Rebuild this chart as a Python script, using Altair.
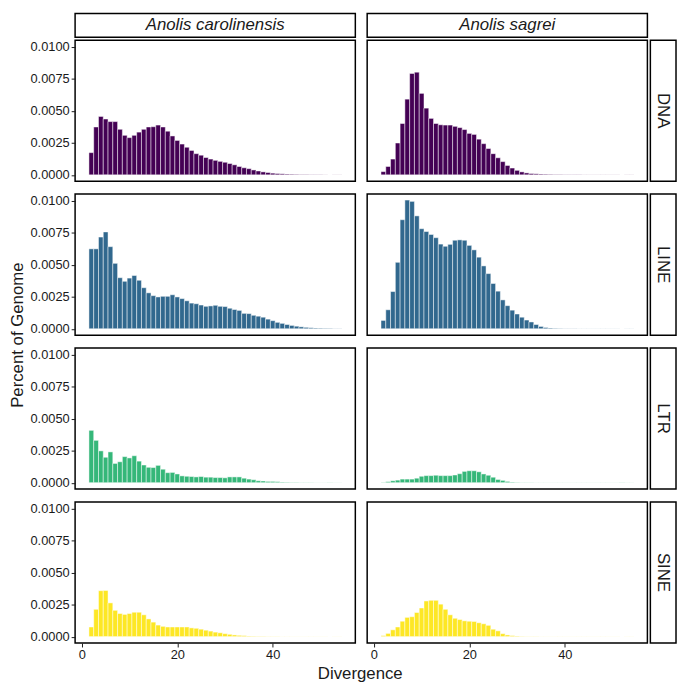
import altair as alt
import pandas as pd

FONT = "Liberation Sans"

species = ["Anolis carolinensis", "Anolis sagrei"]
te_types = ["DNA", "LINE", "LTR", "SINE"]
te_colors = ["#440154", "#31688E", "#35B779", "#FDE725"]
y_ticks = [0, 0.0025, 0.005, 0.0075, 0.01]
x_ticks = [0, 20, 40]

# divergence bin centres (width-1 bins)
bin_centers = list(range(2, 55))

car_DNA = [0.00173, 0.00373, 0.00455, 0.00435, 0.00415, 0.00415, 0.00355, 0.00308, 0.0029, 0.00308,
           0.00333, 0.00355, 0.00373, 0.00375, 0.00388, 0.00373, 0.0034, 0.00303, 0.00268, 0.0024,
           0.00215, 0.0019, 0.00165, 0.00153, 0.00135, 0.00123, 0.00113, 0.00105, 0.00098, 0.00088,
           0.00078, 0.00065, 0.00055, 0.00048, 0.00038, 0.0003, 0.00023, 0.00018, 0.00013, 0.0001,
           0.00008, 0.00006, 0.00005, 0.00004, 0.00003, 0.00003, 0.00002, 0.00002, 0.00002, 0.00001,
           0.00001, 0.00001, 0.00001]
sag_DNA = [0.00025, 0.00065, 0.00123, 0.00248, 0.004, 0.0059, 0.0079, 0.008, 0.00635, 0.0052,
           0.0044, 0.004, 0.0039, 0.00388, 0.00388, 0.00378, 0.00368, 0.00353, 0.00323, 0.00315,
           0.00278, 0.00243, 0.00205, 0.00165, 0.00133, 0.00103, 0.00073, 0.00053, 0.00035, 0.00023,
           0.00015, 0.0001, 0.00008, 0.00006, 0.00005, 0.00004, 0.00003, 0.00003, 0.00002, 0.00002,
           0.00002, 0.00002, 0.00001, 0.00001, 0.00001, 0.00001, 0.00001, 0.00001, 0.00001, 0.00001,
           0.00001, 0.00001, 0.00001]
car_LINE = [0.00623, 0.00623, 0.00715, 0.00755, 0.0064, 0.0051, 0.00398, 0.0037, 0.00395, 0.00415,
            0.00378, 0.0032, 0.0028, 0.00258, 0.00248, 0.00253, 0.00253, 0.00265, 0.00248, 0.00235,
            0.00218, 0.002, 0.00195, 0.00185, 0.00175, 0.00178, 0.00183, 0.00175, 0.00173, 0.0016,
            0.0015, 0.00143, 0.0012, 0.00118, 0.00105, 0.00098, 0.0009, 0.00075, 0.00063, 0.0005,
            0.00042, 0.00033, 0.00026, 0.0002, 0.00015, 0.00011, 0.00008, 0.00006, 0.00005, 0.00004,
            0.00003, 0.00002, 0.00002]
sag_LINE = [0.00065, 0.00148, 0.0029, 0.00518, 0.0085, 0.01003, 0.00993, 0.0088, 0.0078, 0.00758,
            0.00735, 0.0071, 0.0066, 0.00643, 0.00658, 0.0069, 0.00693, 0.0069, 0.0065, 0.00615,
            0.00558, 0.0049, 0.0043, 0.00353, 0.00293, 0.00225, 0.0018, 0.00145, 0.00115, 0.0009,
            0.00068, 0.00053, 0.00033, 0.00018, 0.0001, 0.00006, 0.00004, 0.00003, 0.00002, 0.00002,
            0.00002, 0.00001, 0.00001, 0.00001, 0.00001, 0.00001, 0.00001, 0.00001, 0.00001, 0.00001,
            0.00001, 0.00001, 0.00001]
car_LTR = [0.00408, 0.0033, 0.00248, 0.00198, 0.0024, 0.0015, 0.00163, 0.00203, 0.00193, 0.0021,
           0.00168, 0.00138, 0.0012, 0.00118, 0.00135, 0.00105, 0.00078, 0.0008, 0.00068, 0.00053,
           0.0005, 0.00048, 0.00045, 0.00048, 0.00043, 0.00043, 0.0004, 0.0004, 0.00038, 0.00045,
           0.00045, 0.00045, 0.00035, 0.00028, 0.00023, 0.00015, 0.00013, 0.0001, 0.0001, 0.00008,
           0.00005, 0.00004, 0.00003, 0.00003, 0.00002, 0.00002, 0.00002, 0.00001, 0.00001, 0.00001,
           0.00001, 0.00001, 0.00001]
sag_LTR = [0.00003, 0.00008, 0.00015, 0.0002, 0.00028, 0.00028, 0.00028, 0.00035, 0.0005, 0.00055,
           0.00055, 0.00058, 0.00055, 0.00055, 0.00055, 0.0006, 0.0007, 0.00088, 0.00093, 0.00093,
           0.00085, 0.00068, 0.00058, 0.00043, 0.00025, 0.00018, 0.0001, 0.00005, 0.00003, 0.00002,
           0.00002, 0.00002, 0.00001, 0.00001, 0.00001, 0.00001, 0.00001, 0.00001, 0.00001, 0.00001,
           0.00001, 0.00001, 0.00001, 0.00001, 0.00001, 0.00001, 0.00001, 0.00001, 0.00001, 0.00001,
           0.00001, 0.00001, 0.00001]
car_SINE = [0.00075, 0.00213, 0.00358, 0.0036, 0.00263, 0.00205, 0.0018, 0.00173, 0.0018, 0.0019,
            0.0019, 0.0017, 0.00138, 0.00113, 0.0009, 0.0008, 0.00075, 0.00075, 0.00075, 0.00075,
            0.00075, 0.00068, 0.00065, 0.00058, 0.0005, 0.00043, 0.00035, 0.0003, 0.00023, 0.00018,
            0.00013, 0.0001, 0.00008, 0.00005, 0.00004, 0.00003, 0.00003, 0.00002, 0.00002, 0.00002,
            0.00001, 0.00001, 0.00001, 0.00001, 0.00001, 0.00001, 0.00001, 0.00001, 0.00001, 0.00001,
            0.00001, 0.00001, 0.00001]
sag_SINE = [0.00008, 0.00025, 0.00053, 0.00075, 0.0012, 0.0015, 0.00155, 0.00188, 0.00223, 0.00278,
            0.00283, 0.00283, 0.00253, 0.00213, 0.0017, 0.00143, 0.00133, 0.00123, 0.0012, 0.00118,
            0.00108, 0.001, 0.00088, 0.00058, 0.00045, 0.00023, 0.00013, 0.00008, 0.00005, 0.00003,
            0.00002, 0.00002, 0.00002, 0.00001, 0.00001, 0.00001, 0.00001, 0.00001, 0.00001, 0.00001,
            0.00001, 0.00001, 0.00001, 0.00001, 0.00001, 0.00001, 0.00001, 0.00001, 0.00001, 0.00001,
            0.00001, 0.00001, 0.00001]

series = {
    ("Anolis carolinensis", "DNA"): car_DNA,
    ("Anolis sagrei", "DNA"): sag_DNA,
    ("Anolis carolinensis", "LINE"): car_LINE,
    ("Anolis sagrei", "LINE"): sag_LINE,
    ("Anolis carolinensis", "LTR"): car_LTR,
    ("Anolis sagrei", "LTR"): sag_LTR,
    ("Anolis carolinensis", "SINE"): car_SINE,
    ("Anolis sagrei", "SINE"): sag_SINE,
}

PW, PH = 284, 143
HDR_H, STRIP_W = 24, 26
XDOM = [-1.4, 57.3]
YDOM = [-0.0005, 0.0105]
TXT = "#1a1a1a"
FS = 17


def panel(sp, t, color, show_x, show_y):
    vals = series[(sp, t)]
    d = pd.DataFrame({
        "lo": [c - 0.5 for c in bin_centers],
        "hi": [c + 0.5 for c in bin_centers],
        "pct": vals,
    })
    xax = alt.Axis(values=x_ticks, title=None) if show_x else None
    yax = alt.Axis(values=y_ticks, format=".4f", title=None) if show_y else None
    return alt.Chart(d).mark_rect(
        fill=color, stroke="white", strokeWidth=0.6, strokeOpacity=0.8
    ).encode(
        x=alt.X("lo:Q", scale=alt.Scale(domain=XDOM, nice=False, zero=False), axis=xax),
        x2="hi:Q",
        y=alt.Y("pct:Q", scale=alt.Scale(domain=YDOM, nice=False, zero=False), axis=yax),
        y2=alt.datum(0),
    ).properties(width=PW, height=PH)


def ghost_axis():
    return alt.Axis(values=[0.5], labelExpr="'0.0100'", labelColor="transparent",
                    tickColor="transparent", title=None)


def col_strip(sp, with_axis):
    d = pd.DataFrame({"t": [sp], "yv": [0.5]})
    if with_axis:
        ych = alt.Y("yv:Q", scale=alt.Scale(domain=[0, 1]), axis=ghost_axis())
    else:
        ych = alt.value(HDR_H / 2)
    return alt.Chart(d).mark_text(
        font=FONT, fontSize=FS, fontStyle="italic", color=TXT
    ).encode(x=alt.value(PW / 2), y=ych, text="t:N").properties(
        width=PW, height=HDR_H,
        view=alt.ViewBackground(fill="white", stroke="black", strokeWidth=1.5),
    )


def row_strip(t):
    d = pd.DataFrame({"t": [t]})
    return alt.Chart(d).mark_text(
        font=FONT, fontSize=FS, angle=90, color=TXT
    ).encode(x=alt.value(STRIP_W / 2), y=alt.value(PH / 2), text="t:N").properties(
        width=STRIP_W, height=PH,
        view=alt.ViewBackground(fill="white", stroke="black", strokeWidth=1.5),
    )


header = alt.hconcat(col_strip(species[0], True), col_strip(species[1], False), spacing=10)

rows = []
for i, (t, col) in enumerate(zip(te_types, te_colors)):
    bottom = i == len(te_types) - 1
    pair = alt.hconcat(
        panel(species[0], t, col, bottom, True),
        panel(species[1], t, col, bottom, False),
        spacing=10,
    )
    rows.append(alt.hconcat(pair, row_strip(t), spacing=1))

grid = alt.vconcat(*rows, spacing=10)
top = alt.vconcat(header, grid, spacing=1)

xt = pd.DataFrame({"t": ["Divergence"], "yv": [0.5]})
xtitle = alt.Chart(xt).mark_text(font=FONT, fontSize=FS, color=TXT).encode(
    x=alt.value((2 * PW + 10) / 2),
    y=alt.Y("yv:Q", scale=alt.Scale(domain=[0, 1]), axis=ghost_axis()),
    text="t:N",
).properties(width=2 * PW + 10, height=18,
             view=alt.ViewBackground(stroke="transparent"))

main = alt.vconcat(top, xtitle, spacing=1)

grid_mid = HDR_H + 1 + (4 * PH + 30) / 2
yt = pd.DataFrame({"t": ["Percent of Genome"]})
ytitle = alt.Chart(yt).mark_text(font=FONT, fontSize=FS, angle=270, color=TXT).encode(
    x=alt.value(4), y=alt.value(grid_mid), text="t:N"
).properties(width=10, height=HDR_H + 1 + 4 * PH + 30,
             view=alt.ViewBackground(stroke="transparent"))

chart = alt.hconcat(ytitle, main, spacing=2).properties(padding=0).configure_view(
    stroke="black", strokeWidth=1.5
).configure_axis(
    labelFont=FONT, labelFontSize=13, labelColor=TXT, tickColor=TXT,
    tickSize=4, tickWidth=1, labelPadding=2, domain=False, grid=False,
)

chart.save("out.html", embed_options={"renderer": "svg", "actions": False})
